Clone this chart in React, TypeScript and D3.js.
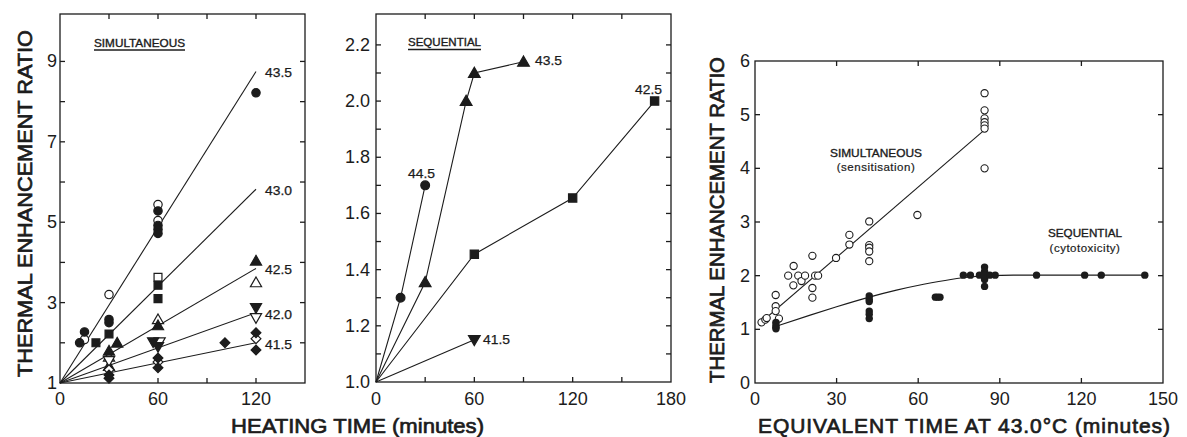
import React from "react";
import * as d3 from "d3";

// ---------- Panel A: SIMULTANEOUS (heating time, min) ----------
const simTemps = ["43.5", "43.0", "42.5", "42.0", "41.5"];
const simFitT = 120;
const simFitEnd = [8.75, 5.82, 3.85, 2.75, 2.0];

const simFilledCircles: [number, number][] = [[12, 2.0], [15, 2.27], [30, 2.58], [30, 2.5], [60, 5.28], [60, 4.92], [60, 4.82], [60, 4.72], [120, 8.22]];
const simOpenCircles: [number, number][] = [[15, 2.08], [30, 3.2], [60, 5.44], [60, 5.04]];
const simFilledSquares: [number, number][] = [[22, 2.0], [30, 2.22], [60, 3.43], [60, 3.1]];
const simOpenSquares: [number, number][] = [[60, 3.63]];
const simFilledTriangles: [number, number][] = [[35, 2.0], [30, 1.8], [30, 1.42], [60, 2.43], [120, 4.04]];
const simOpenTriangles: [number, number][] = [[30, 1.65], [60, 2.58], [120, 3.5]];
const simFilledDown: [number, number][] = [[57, 2.02], [60, 1.9], [120, 2.87]];
const simOpenDown: [number, number][] = [[30, 1.55], [61, 2.02], [120, 2.62]];
const simFilledDiamonds: [number, number][] = [[30, 1.2], [30, 1.12], [60, 1.62], [60, 1.38], [101, 2.0], [120, 2.25], [120, 1.82]];
const simOpenDiamonds: [number, number][] = [[30, 1.33], [60, 1.52], [120, 2.1]];

// ---------- Panel B: SEQUENTIAL (heating time, min) ----------
const seq445T = [0, 15, 30];
const seq445V = [1.0, 1.3, 1.7];
const seq435T = [0, 30, 55, 60, 90];
const seq435V = [1.0, 1.355, 2.0, 2.1, 2.14];
const seq425T = [0, 60, 120, 170];
const seq425V = [1.0, 1.455, 1.655, 2.0];
const seq415T = [0, 60];
const seq415V = [1.0, 1.15];

// ---------- Panel C: equivalent time at 43.0 C ----------
const eqSimT = [2.4, 3.8, 4.3, 7.6, 7.6, 7.6, 8.8, 12.2, 14.2, 14.1, 15.9, 17.1, 18.4, 21.1, 21.1, 21.1, 22.1, 23.2, 29.8, 34.7, 34.7, 42, 42, 42, 42, 42, 59.7, 84.4, 84.4, 84.4, 84.4, 84.4, 84.4, 84.4];
const eqSimV = [1.13, 1.18, 1.21, 1.64, 1.43, 1.34, 1.2, 2.0, 2.18, 1.82, 2.0, 1.9, 2.0, 2.37, 1.77, 1.59, 2.0, 2.0, 2.33, 2.76, 2.58, 3.01, 2.57, 2.52, 2.45, 2.27, 3.13, 5.4, 5.08, 4.93, 4.86, 4.8, 4.74, 4.0];
const eqSeqT = [7.7, 7.7, 7.7, 7.7, 42, 42, 42, 42, 42, 42, 66.3, 67.1, 68, 76.6, 79.2, 82.5, 84.4, 84.4, 84.4, 84.4, 84.4, 84.4, 86.3, 88.3, 103.5, 121.2, 127.3, 143.3];
const eqSeqV = [1.13, 1.08, 1.04, 1.01, 1.62, 1.56, 1.52, 1.34, 1.28, 1.2, 1.6, 1.6, 1.6, 2.01, 2.01, 2.01, 2.16, 2.08, 2.01, 1.93, 1.8, 2.01, 2.01, 2.01, 2.01, 2.01, 2.01, 2.01];
const eqSimFitT = [2, 84.5];
const eqSimFitV = [1.12, 4.72];
const eqSeqFitT = [8, 20, 30, 42, 52, 62, 72, 80, 86, 95, 143];
const eqSeqFitV = [1.06, 1.26, 1.42, 1.6, 1.73, 1.84, 1.93, 1.98, 2.0, 2.01, 2.01];

const INK = "#1c1c1c";
const FONT = "'Liberation Sans', Arial, sans-serif";

type Shape = "circle" | "square" | "triangle" | "down" | "diamond";

function Marker({ x, y, shape, filled, s = 1 }: { x: number; y: number; shape: Shape; filled: boolean; s?: number }) {
  let type: any = d3.symbolCircle;
  let size = 55 * s;
  let rot = 0;
  if (shape === "square") { type = d3.symbolSquare; size = 62 * s; }
  if (shape === "triangle") { type = d3.symbolTriangle; size = 54 * s; }
  if (shape === "down") { type = d3.symbolTriangle; size = 54 * s; rot = 180; }
  if (shape === "diamond") { type = d3.symbolSquare; size = 48 * s; rot = 45; }
  const path = d3.symbol().type(type).size(size)() as string;
  const dy = shape === "triangle" ? 1 : shape === "down" ? -1 : 0;
  return (
    <path
      d={path}
      transform={`translate(${x},${y + dy}) rotate(${rot})`}
      fill={filled ? INK : "#fff"}
      stroke={INK}
      strokeWidth={1.2}
    />
  );
}

function Frame({ x0, x1, y0, y1, xTicks, yTicksL, yTicksR, xs, ys }: any) {
  const tl = 5;
  return (
    <g stroke={INK} strokeWidth={1.3} fill="none">
      <rect x={x0} y={y0} width={x1 - x0} height={y1 - y0} />
      {xTicks.map((t: number, i: number) => (
        <g key={"x" + i}>
          <line x1={xs(t)} x2={xs(t)} y1={y1} y2={y1 - tl} />
          <line x1={xs(t)} x2={xs(t)} y1={y0} y2={y0 + tl} />
        </g>
      ))}
      {yTicksL.map((v: number, i: number) => (
        <line key={"l" + i} x1={x0} x2={x0 + tl} y1={ys(v)} y2={ys(v)} />
      ))}
      {yTicksR.map((v: number, i: number) => (
        <line key={"r" + i} x1={x1} x2={x1 - tl} y1={ys(v)} y2={ys(v)} />
      ))}
    </g>
  );
}

export default function App() {
  // Panel A
  const aX = d3.scaleLinear().domain([0, 150]).range([60, 305]);
  const aY = d3.scaleLinear().domain([1, 10.18]).range([383, 14]);
  // Panel B
  const bX = d3.scaleLinear().domain([0, 180]).range([376, 671]);
  const bY = d3.scaleLinear().domain([1, 2.31]).range([382, 14]);
  // Panel C
  const cX = d3.scaleLinear().domain([0, 150]).range([755, 1163]);
  const cY = d3.scaleLinear().domain([0, 6]).range([383, 61]);

  const simGroups: { pts: [number, number][]; shape: Shape; filled: boolean }[] = [
    { pts: simOpenCircles, shape: "circle", filled: false },
    { pts: simFilledCircles, shape: "circle", filled: true },
    { pts: simOpenSquares, shape: "square", filled: false },
    { pts: simFilledSquares, shape: "square", filled: true },
    { pts: simOpenTriangles, shape: "triangle", filled: false },
    { pts: simFilledTriangles, shape: "triangle", filled: true },
    { pts: simOpenDown, shape: "down", filled: false },
    { pts: simFilledDown, shape: "down", filled: true },
    { pts: simOpenDiamonds, shape: "diamond", filled: false },
    { pts: simFilledDiamonds, shape: "diamond", filled: true },
  ];

  const seqSeries: { t: number[]; v: number[]; shape: Shape; label: string; lx: number; ly: number }[] = [
    { t: seq445T, v: seq445V, shape: "circle", label: "44.5", lx: 408, ly: 174 },
    { t: seq435T, v: seq435V, shape: "triangle", label: "43.5", lx: 535, ly: 61 },
    { t: seq425T, v: seq425V, shape: "square", label: "42.5", lx: 635, ly: 89.5 },
    { t: seq415T, v: seq415V, shape: "down", label: "41.5", lx: 483, ly: 339.5 },
  ];

  const lineB = d3.line<number>();
  const seqFitLine = d3
    .line<number>()
    .x((d, i) => cX(eqSeqFitT[i]))
    .y((d) => cY(d))
    .curve(d3.curveMonotoneX);

  const tickStyle = { fontFamily: FONT, fontSize: 18, fill: INK } as const;
  const smallStyle = { fontFamily: FONT, fontSize: 12.5, fill: INK, stroke: INK, strokeWidth: 0.25 } as const;
  const titleStyle = { fontFamily: FONT, fontSize: 21, fill: INK, stroke: INK, strokeWidth: 0.7 } as const;
  const capStyle = { fontFamily: FONT, fontSize: 10.5, fill: INK, stroke: INK, strokeWidth: 0.35 } as const;

  return (
    <svg width={1187} height={437} style={{ position: "absolute", left: 0, top: 0, background: "#fff" }}>
      <rect x={0} y={0} width={1187} height={437} fill="#fff" />

      {/* ---------- Panel A ---------- */}
      <Frame x0={60} x1={305} y0={14} y1={383} xs={aX} ys={aY}
        xTicks={[30, 60, 90, 120]} yTicksL={[2, 3, 4, 5, 6, 7, 8, 9]} yTicksR={[2, 3, 4, 5, 6, 7, 8, 9]} />
      {simFitEnd.map((v, i) => (
        <line key={"fa" + i} x1={aX(0)} y1={aY(1)} x2={aX(simFitT)} y2={aY(v)} stroke={INK} strokeWidth={1.1} />
      ))}
      {simGroups.map((g, gi) =>
        g.pts.map((p, i) => <Marker key={gi + "-" + i} x={aX(p[0])} y={aY(p[1])} shape={g.shape} filled={g.filled} />)
      )}
      {simTemps.map((t, i) => (
        <text key={"la" + i} x={265} y={aY(simFitEnd[i]) + 2} dominantBaseline="central" style={smallStyle} textLength={27} lengthAdjust="spacingAndGlyphs">{t}</text>
      ))}
      {[1, 3, 5, 7, 9].map((v) => (
        <text key={"ya" + v} x={57} y={aY(v)} textAnchor="end" dominantBaseline="central" style={tickStyle}>{v}</text>
      ))}
      {[0, 60, 120].map((t) => (
        <text key={"xa" + t} x={aX(t)} y={405} textAnchor="middle" style={tickStyle}>{t}</text>
      ))}
      <text x={94} y={46.5} style={capStyle} textLength={91} lengthAdjust="spacingAndGlyphs">SIMULTANEOUS</text>
      <line x1={94} x2={185} y1={50} y2={50} stroke={INK} strokeWidth={1.6} />

      {/* ---------- Panel B ---------- */}
      <Frame x0={376} x1={671} y0={14} y1={382} xs={bX} ys={bY}
        xTicks={[30, 60, 90, 120, 150]}
        yTicksL={d3.range(11, 23).map((d) => d / 10)}
        yTicksR={d3.range(11, 23).map((d) => d / 10)} />
      {seqSeries.map((s, si) => (
        <g key={"sb" + si}>
          <path d={lineB(s.t.map((t, i) => [bX(t), bY(s.v[i])]) as any) as string} fill="none" stroke={INK} strokeWidth={1.1} />
          {s.t.map((t, i) => (t > 0 ? <Marker key={i} x={bX(t)} y={bY(s.v[i])} shape={s.shape} filled={true} s={1.1} /> : null))}
          <text x={s.lx} y={s.ly} dominantBaseline="central" style={smallStyle} textLength={27} lengthAdjust="spacingAndGlyphs">{s.label}</text>
        </g>
      ))}
      {[1.0, 1.2, 1.4, 1.6, 1.8, 2.0, 2.2].map((v) => (
        <text key={"yb" + v} x={370} y={bY(v)} textAnchor="end" dominantBaseline="central" style={tickStyle}>{v.toFixed(1)}</text>
      ))}
      {[0, 60, 120, 180].map((t) => (
        <text key={"xb" + t} x={bX(t)} y={405} textAnchor="middle" style={tickStyle}>{t}</text>
      ))}
      <text x={408} y={46} style={capStyle} textLength={73} lengthAdjust="spacingAndGlyphs">SEQUENTIAL</text>
      <line x1={408} x2={481} y1={49.5} y2={49.5} stroke={INK} strokeWidth={1.6} />

      <text x={231} y={433} style={titleStyle} textLength={253} lengthAdjust="spacingAndGlyphs">HEATING TIME (minutes)</text>
      <text transform="translate(24,377) rotate(-90)" dominantBaseline="central"
        style={titleStyle} textLength={347} lengthAdjust="spacingAndGlyphs">THERMAL ENHANCEMENT RATIO</text>

      {/* ---------- Panel C ---------- */}
      <Frame x0={755} x1={1163} y0={61} y1={383} xs={cX} ys={cY}
        xTicks={[30, 60, 90, 120]} yTicksL={[1, 2, 3, 4, 5]} yTicksR={[1, 2, 3, 4, 5]} />
      <line x1={cX(eqSimFitT[0])} y1={cY(eqSimFitV[0])} x2={cX(eqSimFitT[1])} y2={cY(eqSimFitV[1])} stroke={INK} strokeWidth={1.1} />
      <path d={seqFitLine(eqSeqFitV) as string} fill="none" stroke={INK} strokeWidth={1.1} />
      {eqSimT.map((t, i) => (
        <circle key={"os" + i} cx={cX(t)} cy={cY(eqSimV[i])} r={3.6} fill="#fff" stroke={INK} strokeWidth={1.1} />
      ))}
      {eqSeqT.map((t, i) => (
        <circle key={"fs" + i} cx={cX(t)} cy={cY(eqSeqV[i])} r={3.7} fill={INK} />
      ))}
      {[0, 1, 2, 3, 4, 5, 6].map((v) => (
        <text key={"yc" + v} x={750} y={cY(v)} textAnchor="end" dominantBaseline="central" style={tickStyle}>{v}</text>
      ))}
      {[0, 30, 60, 90, 120, 150].map((t) => (
        <text key={"xc" + t} x={cX(t)} y={405} textAnchor="middle" style={tickStyle}>{t}</text>
      ))}
      <text x={830} y={156.5} style={{ ...capStyle, fontSize: 11 }} textLength={92} lengthAdjust="spacingAndGlyphs">SIMULTANEOUS</text>
      <text x={876} y={171} textAnchor="middle" style={{ fontFamily: FONT, fontSize: 11.5, fill: INK, letterSpacing: 0.5, stroke: INK, strokeWidth: 0.2 }}>(sensitisation)</text>
      <text x={1048} y={237} style={{ ...capStyle, fontSize: 11 }} textLength={74} lengthAdjust="spacingAndGlyphs">SEQUENTIAL</text>
      <text x={1085} y={252} textAnchor="middle" style={{ fontFamily: FONT, fontSize: 11.5, fill: INK, letterSpacing: 0.5, stroke: INK, strokeWidth: 0.2 }}>(cytotoxicity)</text>

      <text x={758} y={433} style={titleStyle} textLength={412} lengthAdjust="spacing">EQUIVALENT TIME AT 43.0°C (minutes)</text>
      <text transform="translate(717,383) rotate(-90)" dominantBaseline="central"
        style={{ ...titleStyle, fontSize: 20 }} textLength={326} lengthAdjust="spacingAndGlyphs">THERMAL ENHANCEMENT RATIO</text>
    </svg>
  );
}
